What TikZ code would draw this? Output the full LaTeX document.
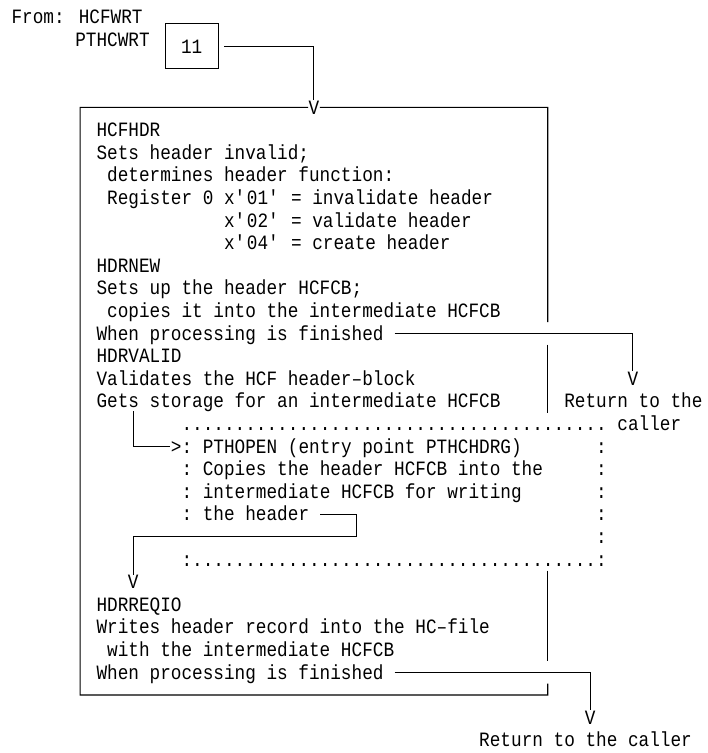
\documentclass[tikz,border=0pt]{standalone}
\usepackage{fontspec}
\newfontfamily\monofam[FakeStretch=0.87]{Liberation Mono}
\newcommand\apq{\textquotesingle}
\begin{document}
\begin{tikzpicture}[x=5.315pt,y=-11.3pt,line width=0.55pt,
  txt/.style={anchor=base west,inner sep=0pt,yshift=-3.35pt,text height=6.7pt,text depth=0pt,
    font=\monofam\fontsize{10.18pt}{11.3pt}\selectfont},
  vtip/.style={txt,anchor=base},
  codebox/.style={txt,anchor=center,yshift=0pt,draw,minimum width=26.6pt,minimum height=22.6pt}]
\useasboundingbox (-9.031,-5.752) rectangle (57.479,27.566);
% caller and entry
\node[txt] (from) at (-8,-5) {From: HCFWRT};
\node[txt] (pthc) at (-2,-4) {PTHCWRT};
\node[codebox] (code11) at (9,-4) {11};
\node[vtip] (vtop) at (20.5,-1) {V};
\draw ([xshift=2.7pt]code11.east) -| (vtop.north);
% frame of the module
\draw (vtop.west) -- (-1.5,-1) -- (-1.5,25) -- (42.5,25) -- (42.5,24.5);
\draw (vtop.east) -- (42.5,-1) -- (42.5,8.5);
\draw (42.5,9.5) -- (42.5,12.5);
\draw (42.5,19.5) -- (42.5,23.5);
% HCFHDR
\node[txt] (hcfhdr) at (0,0) {HCFHDR};
\node[txt] (inval) at (0,1) {Sets header invalid;};
\node[txt] (determ) at (1,2) {determines header function:};
\node[txt] (reg01) at (1,3) {Register 0 x\apq 01\apq\ = invalidate header};
\node[txt] (reg02) at (12,4) {x\apq 02\apq\ = validate header};
\node[txt] (reg04) at (12,5) {x\apq 04\apq\ = create header};
% HDRNEW
\node[txt] (hdrnew) at (0,6) {HDRNEW};
\node[txt] (setsup) at (0,7) {Sets up the header HCFCB;};
\node[txt] (copies) at (1,8) {copies it into the intermediate HCFCB};
\node[txt] (fin1) at (0,9) {When processing is finished};
\node[vtip] (vret1) at (50.5,11) {V};
\node[txt] (ret1) at (44,12) {Return to the};
\node[txt] (ret1b) at (49,13) {caller};
\draw ([xshift=5.3pt]fin1.east) -| (vret1.north);
% HDRVALID
\node[txt] (hdrvalid) at (0,10) {HDRVALID};
\node[txt] (valid) at (0,11) {Validates the HCF header–block};
\node[txt] (gets) at (0,12) {Gets storage for an intermediate HCFCB};
% PTHOPEN (dotted frame)
\node[txt] (dtop) at (8,13) {........................................};
\node[txt] (gt) at (7,14) {>};
\node[txt] (c14) at (8,14) {:};
\node[txt] (pthopen) at (10,14) {PTHOPEN (entry point PTHCHDRG)};
\node[txt] (c15) at (8,15) {:};
\node[txt] (cphdr) at (10,15) {Copies the header HCFCB into the};
\node[txt] (c16) at (8,16) {:};
\node[txt] (inter) at (10,16) {intermediate HCFCB for writing};
\node[txt] (c17) at (8,17) {:};
\node[txt] (thehdr) at (10,17) {the header};
\node[txt] (dbot) at (8,19) {:......................................:};
\foreach \r in {14,...,18}
  \node[txt] (r\r) at (47,\r) {:};
\coordinate (gs) at (3.5,12.45);
\draw (gs) |- (gt.west);
% HDRREQIO
\coordinate (hk) at (24.5,18);
\node[vtip] (vdown) at (3.5,20) {V};
\draw ([xshift=5.3pt]thehdr.east) -| (hk) -| (vdown.north);
\node[txt] (hdrreqio) at (0,21) {HDRREQIO};
\node[txt] (writes) at (0,22) {Writes header record into the HC–file};
\node[txt] (withint) at (1,23) {with the intermediate HCFCB};
\node[txt] (fin2) at (0,24) {When processing is finished};
\node[vtip] (vret2) at (46.5,26) {V};
\node[txt] (ret2) at (36,27) {Return to the caller};
\draw ([xshift=5.3pt]fin2.east) -| (vret2.north);
\end{tikzpicture}
\end{document}
